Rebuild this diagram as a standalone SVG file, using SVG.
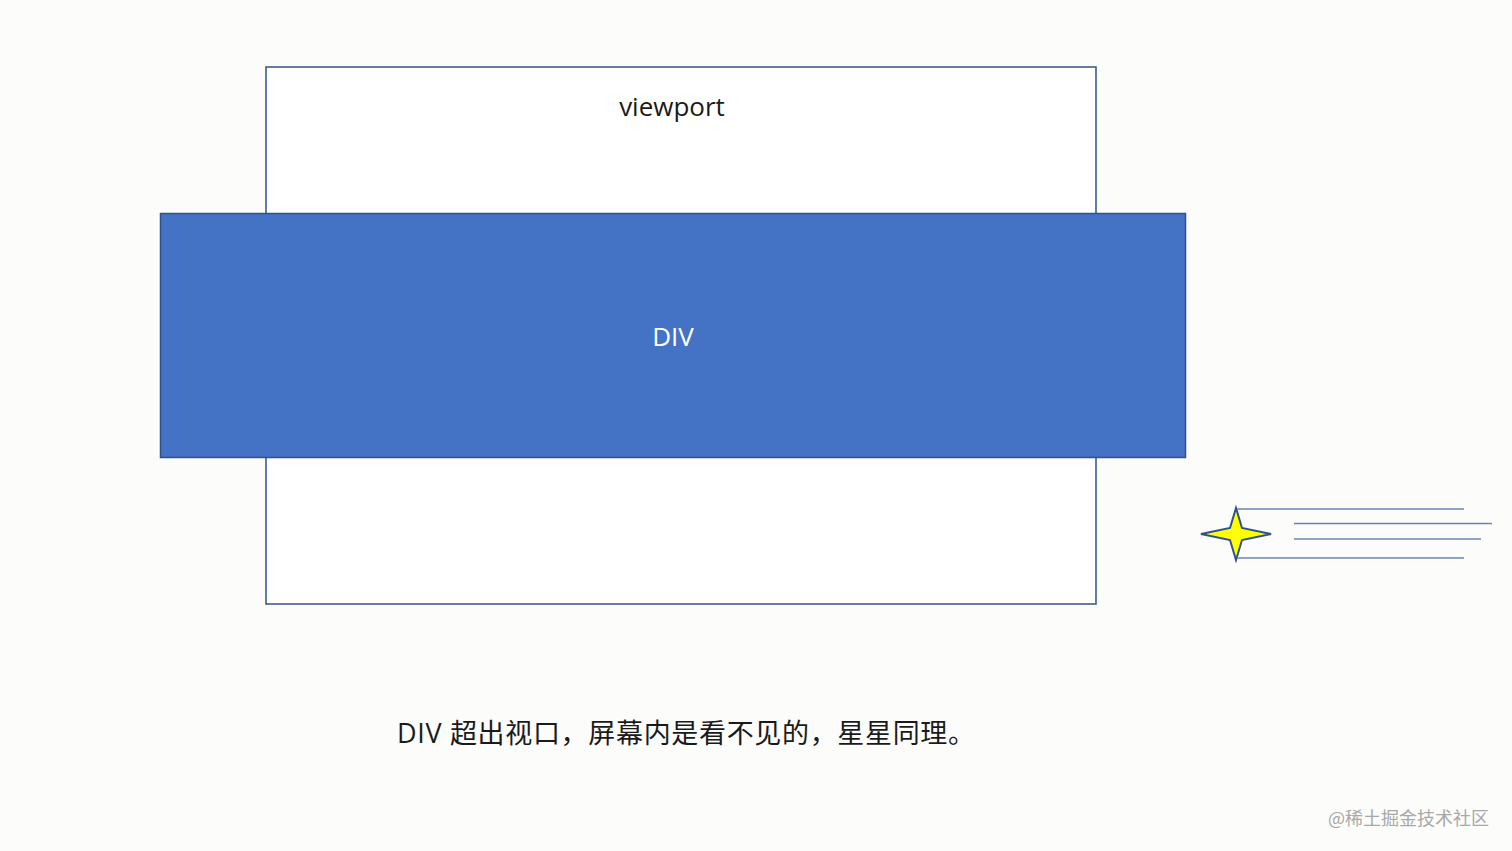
<svg xmlns="http://www.w3.org/2000/svg" width="1512" height="851" viewBox="0 0 1512 851">
<style>
.t{font-family:"Open Sans","Noto Sans","Noto Sans CJK SC",sans-serif;font-size:26px;fill:#1a1a1a}
.ln{stroke:#6c84b4;stroke-width:1.5}
</style>
<rect x="0" y="0" width="1512" height="851" fill="#fcfcfa"/>
<g id="viewport">
<rect x="266" y="67" width="830" height="537" fill="#ffffff" stroke="#2f528f" stroke-width="1.5"/>
<text class="t" x="672" y="116" text-anchor="middle">viewport</text>
</g>
<g id="div">
<rect x="160.5" y="213.5" width="1025" height="244" fill="#4472c4" stroke="#2f528f" stroke-width="1.5"/>
<text class="t" x="673" y="346" text-anchor="middle" style="fill:#ffffff">DIV</text>
</g>
<g id="star">
<path d="M1236,508 L1242,528 L1271,534 L1242,540 L1236,560 L1230,540 L1201,534 L1230,528 Z" fill="#ffff00" stroke="#2f528f" stroke-width="2" stroke-linejoin="miter"/>
</g>
<g id="connectors">
<line class="ln" x1="1237" y1="509" x2="1464" y2="509"/>
<line class="ln" x1="1294" y1="523.5" x2="1492" y2="523.5"/>
<line class="ln" x1="1294" y1="539" x2="1481" y2="539"/>
<line class="ln" x1="1237" y1="558" x2="1464" y2="558"/>
</g>
<text class="t" x="397" y="743" style="font-size:27px" textLength="578" lengthAdjust="spacing">DIV 超出视口，屏幕内是看不见的，星星同理。</text>
<text x="1328" y="825" style="font-family:'Noto Sans CJK SC',sans-serif;font-size:18px;fill:#a8a8a8">@稀土掘金技术社区</text>
</svg>
